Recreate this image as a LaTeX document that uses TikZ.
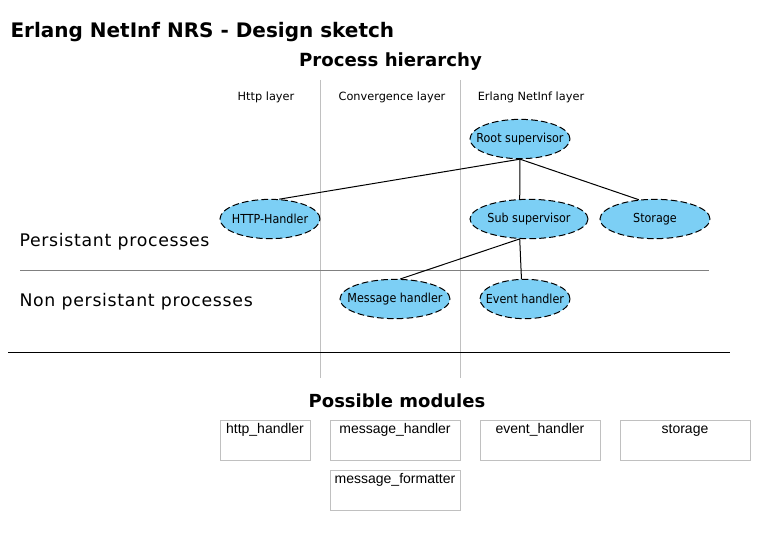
\documentclass[tikz,border=0pt]{standalone}
\usepackage{fontspec}
\setmainfont{DejaVu Sans}
\newfontfamily\condfont{DejaVu Sans Condensed}
\newfontfamily\modfont{Liberation Sans}
\usetikzlibrary{shapes.geometric}

\definecolor{procblue}{RGB}{124,207,245}
\definecolor{layergray}{RGB}{192,192,192}
\definecolor{splitgray}{RGB}{128,128,128}

% label of a process, kept out of the ellipse size
\newcommand{\proclabel}[1]{\makebox[0pt]{#1}}

\tikzset{every picture/.style={line width=0.75pt}}
\tikzset{
  proc/.style={ellipse, draw, dash pattern={on 5pt off 2.4pt}, fill=procblue, inner sep=0pt, minimum height=29.5pt, font=\condfont\fontsize{9.3}{11}\selectfont},
  modbox/.style={draw=layergray, line width=0.75pt, inner sep=0pt, minimum width=#1, text height=9.75pt, text depth=20.25pt, font=\modfont\fontsize{10.5}{12}\selectfont},
  heading/.style={inner sep=0pt, anchor=base, font=\bfseries\fontsize{#1}{16}\selectfont},
  layertext/.style={inner sep=0pt, anchor=base, font=\fontsize{8.5}{10}\selectfont},
  kindtext/.style={inner sep=0pt, anchor=base west, font=\fontsize{13}{15}\selectfont\addfontfeature{LetterSpace=4}},
}

\begin{document}
\begin{tikzpicture}[x=0.75pt,y=0.75pt,yscale=-1,xscale=1]
	\useasboundingbox (0,0) rectangle (771,549);

	%Straight Lines [id:layer1] 
	\draw [color=layergray]  (320,80) -- (320,378) ;
	%Straight Lines [id:layer2] 
	\draw [color=layergray]  (460,80) -- (460,378) ;
	%Straight Lines [id:split] 
	\draw [color=splitgray]  (20,270) -- (709,270) ;
	%Straight Lines [id:bottom] 
	\draw    (8,352) -- (730,352) ;

	%Shape: Ellipse [id:root] 
	\node [proc, minimum width=75pt] (root) at (520,139) {\proclabel{Root supervisor}};
	%Shape: Ellipse [id:http] 
	\node [proc, minimum width=75pt] (http) at (270,219) {\proclabel{HTTP-Handler}};
	%Shape: Ellipse [id:sub] 
	\node [proc, minimum width=88.5pt] (sub) at (529,219) {\proclabel{Sub supervisor}};
	%Shape: Ellipse [id:storage] 
	\node [proc, minimum width=82.5pt] (storage) at (655,219) {\proclabel{Storage}};
	%Shape: Ellipse [id:msg] 
	\node [proc, minimum width=82.5pt] (msg) at (395,299) {\proclabel{Message handler}};
	%Shape: Ellipse [id:event] 
	\node [proc, minimum width=67.5pt] (event) at (525,299) {\proclabel{Event handler}};

	%Straight Lines [id:root-http] 
	\draw    (root.south) -- (http.65) ;
	%Straight Lines [id:root-sub] 
	\draw    (root.south) -- (sub.115) ;
	%Straight Lines [id:root-storage] 
	\draw    (root.south) -- (storage.130) ;
	%Straight Lines [id:sub-msg] 
	\draw    (sub.245) -- (msg.75) ;
	%Straight Lines [id:sub-event] 
	\draw    (sub.245) -- (event.100) ;

	%Shape: Rectangle [id:m1] 
	\node [modbox=67.5pt, anchor=north] (mhttp) at (265,420) {http\_handler};
	%Shape: Rectangle [id:m2] 
	\node [modbox=97.5pt, anchor=north] (mmsg) at (395,420) {message\_handler};
	%Shape: Rectangle [id:m3] 
	\node [modbox=90pt, anchor=north] (mevent) at (540,420) {event\_handler};
	%Shape: Rectangle [id:m4] 
	\node [modbox=97.5pt, anchor=north] (mstorage) at (685,420) {storage};
	%Shape: Rectangle [id:m5] 
	\node [modbox=97.5pt, anchor=north] (mformat) at (395,470) {message\_formatter};

	% Text Node
	\draw (10,37.5) node [heading=15, anchor=base west] (title) {Erlang NetInf NRS - Design sketch};
	% Text Node
	\draw (390.5,67) node [heading=13.6] (hier) {Process hierarchy};
	% Text Node
	\draw (266,101) node [layertext] (lhttp) {Http layer};
	% Text Node
	\draw (392,101) node [layertext] (lconv) {Convergence layer};
	% Text Node
	\draw (531,101) node [layertext] (lerl) {Erlang NetInf layer};
	% Text Node
	\draw (19,246) node [kindtext] (pers) {Persistant processes};
	% Text Node
	\draw (19,306) node [kindtext] (npers) {Non persistant processes};
	% Text Node
	\draw (397,407) node [heading=13.5] (mods) {Possible modules};

\end{tikzpicture}
\end{document}
